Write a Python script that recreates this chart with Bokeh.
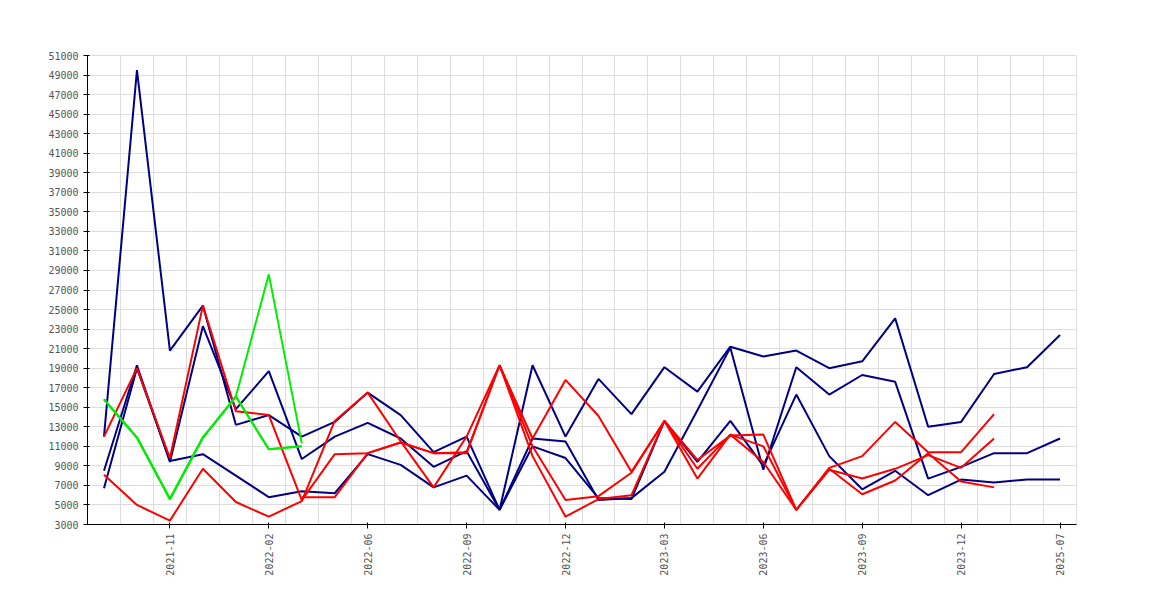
import numpy as np
from bokeh.plotting import figure
from bokeh.models import FixedTicker, Legend, LegendItem
from bokeh.embed import file_html
from bokeh.resources import INLINE

months = ["2021-09","2021-10","2021-11","2021-12","2022-01","2022-02","2022-03","2022-05",
          "2022-06","2022-07","2022-08","2022-09","2022-10","2022-11","2022-12","2023-01",
          "2023-02","2023-03","2023-04","2023-05","2023-06","2023-07","2023-08","2023-09",
          "2023-10","2023-11","2023-12","2024-03","2024-09","2025-07"]
N = None
alle_1 = [12000,49500,20800,25400,13200,14200,12000,13500,16500,14200,10400,12000,4500,19300,12000,
          17900,14300,19100,16600,21200,20200,20800,19000,19700,24100,13000,13500,18400,19100,22400]
alle_2 = [8500,19300,9400,23300,14800,18700,9700,12000,13400,11800,8900,10500,4500,11800,11500,
          5500,5700,8400,14700,21100,8600,19100,16300,18300,17600,7700,8900,10300,10300,11800]
alle_3 = [6700,19000,9500,10200,8000,5800,6400,6200,10200,9100,6800,8000,4500,11000,9800,
          5700,5600,13600,9400,13600,9000,16300,10000,6600,8500,6000,7600,7300,7600,7600]
villa_1 = [12000,19000,9800,25400,14600,14200,5500,10200,10300,11400,10300,10300,19300,11800,17800,
           14100,8400,13600,9600,12100,12200,4500,8800,10000,13500,10400,10400,14300,N,N]
villa_2 = [8100,5000,3400,8700,5300,3800,5400,13600,16500,11500,6800,12000,19300,10000,3800,
           5600,6000,13600,8700,12200,9400,4500,8700,6100,7500,10300,7400,6800,N,N]
villa_3 = [N,N,N,N,N,N,5800,5800,10300,11400,10300,10400,19300,11000,5500,
           5900,8300,13600,7700,12200,11000,4500,8600,7700,8700,10100,8800,11800,N,N]
lejl_1 = [15800,11900,5600,11900,16100,28600,11300] + [N]*23
lejl_2 = [15800,11900,5600,11900,16100,10700,11000] + [N]*23
lejl_3 = [15800,11900,5600,11900,16100,10700,11000] + [N]*23
label_idx = [2,5,8,11,14,17,20,23,26,29]

NAVY, RED, GREEN = "#000080", "#ff0000", "#00ee00"
series = [(alle_1,NAVY,""),(alle_2,NAVY,""),(alle_3,NAVY,"Alle"),
          (villa_1,RED,""),(villa_2,RED,""),(villa_3,RED,"Villa"),
          (lejl_1,GREEN,""),(lejl_2,GREEN,""),(lejl_3,GREEN,"Lejlighed")]

p = figure(width=1154, height=584, output_backend="svg", toolbar_location=None,
           x_range=(-0.5, len(months)-0.5), y_range=(3000, 51000),
           min_border_left=87, min_border_right=78, min_border_top=55, min_border_bottom=60)
p.outline_line_color = "#dddddd"
x = np.arange(len(months))
items = []
for vals, col, lab in series:
    y = np.array([np.nan if v is None else v for v in vals], dtype=float)
    p.line(x, y, line_color=col, line_width=2)
    r = p.scatter(x=[np.nan], y=[np.nan], marker="square", size=7, fill_color=col, line_color="#555555")
    items.append(LegendItem(label=lab, renderers=[r]))

p.xaxis.ticker = FixedTicker(ticks=label_idx)
p.xaxis.major_label_overrides = {i: months[i] for i in label_idx}
p.xaxis.major_label_orientation = np.pi/2
p.xgrid.ticker = FixedTicker(ticks=[i+0.5 for i in range(-1, len(months))])
p.yaxis.ticker = FixedTicker(ticks=list(range(3000, 51001, 2000)))
p.ygrid.ticker = FixedTicker(ticks=list(range(3000, 51001, 2000)))
for g in (p.xgrid, p.ygrid):
    g.grid_line_color = "#dddddd"
for ax in (p.xaxis, p.yaxis):
    ax.major_label_text_font = "DejaVu Sans Mono"
    ax.major_label_text_font_size = "10px"
    ax.major_label_text_color = "#555555"
    ax.axis_line_color = "#000000"
    ax.minor_tick_line_color = None
    ax.major_tick_line_color = "#000000"
p.xaxis.major_tick_out = 4
p.yaxis.major_tick_out = 4

leg = Legend(items=items, orientation="horizontal", location=(703, 474),
             label_text_font="DejaVu Sans Mono", label_text_font_size="10px",
             label_text_color="#555555", glyph_width=8, glyph_height=8,
             label_standoff=2, spacing=10, padding=5, margin=0,
             border_line_color="#dddddd", label_height=10, background_fill_alpha=1)
p.add_layout(leg)

open("out.html", "w").write(file_html(p, INLINE))
